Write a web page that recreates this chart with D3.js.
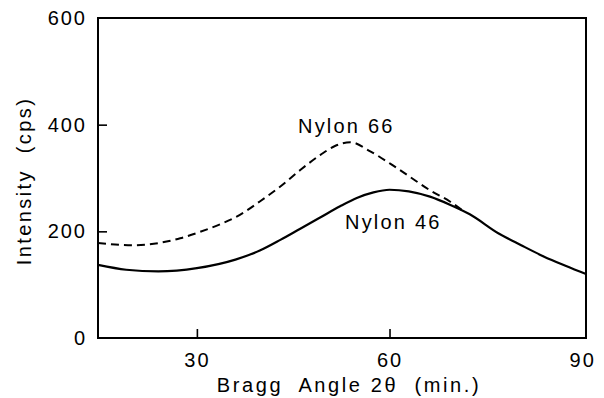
<!DOCTYPE html>
<html>
<head>
<meta charset="utf-8">
<script src="https://cdn.jsdelivr.net/npm/d3@7"></script>
<style>
  body { margin: 0; background: #fff; }
  text { font-family: "Liberation Sans", Arial, sans-serif; fill: #000; white-space: pre; }
</style>
</head>
<body>
<div id="chart"></div>
<script>
// data (angle in min., intensity in cps)
var angle46 = [14.6, 19, 24, 30, 36, 39.8, 43, 46.1, 49.2, 52.3, 55, 57.5, 60, 63, 66.3, 69.4, 72.5, 77, 80.5, 84, 87.5, 90.6];
var nylon46 = [137, 128, 125, 131, 147, 164, 184, 205, 226, 247, 263, 273, 278, 275, 265, 250, 232, 196, 174, 153, 135, 120];

var angle66 = [14.6, 20, 24, 27.4, 30.5, 33.6, 36.7, 39.8, 43, 46.1, 49.2, 51.5, 53.9, 57, 60.1, 63.2, 66.3, 69.4, 71.5];
var nylon66 = [178, 174, 178, 187, 199, 213, 231, 256, 284, 315, 343, 360, 367, 350, 327, 302, 277, 256, 238];

var xTicks = [30, 60, 90];
var yTicks = [0, 200, 400, 600];

var width = 604, height = 398;
var plotLeft = 98, plotRight = 586, plotTop = 18, plotBottom = 338;

var svg = d3.select("#chart").append("svg")
    .attr("width", width)
    .attr("height", height);

var x = d3.scaleLinear().domain([14.6, 90.6]).range([plotLeft, plotRight]);
var y = d3.scaleLinear().domain([0, 600]).range([plotBottom, plotTop]);

// frame
svg.append("rect")
    .attr("x", plotLeft).attr("y", plotTop)
    .attr("width", plotRight - plotLeft).attr("height", plotBottom - plotTop)
    .attr("fill", "none").attr("stroke", "#000").attr("stroke-width", 2);

// axes, ticks pointing inward
var xAxis = svg.append("g")
    .attr("transform", "translate(0," + plotBottom + ")")
    .call(d3.axisBottom(x).tickValues(xTicks).tickSize(-9).tickPadding(15).tickFormat(d3.format("d")));
var yAxis = svg.append("g")
    .attr("transform", "translate(" + plotLeft + ",0)")
    .call(d3.axisLeft(y).tickValues(yTicks).tickSize(-9).tickPadding(11).tickFormat(d3.format("d")));

[xAxis, yAxis].forEach(function (a) {
    a.select(".domain").remove();
    a.selectAll(".tick line").attr("stroke", "#000").attr("stroke-width", 1.6);
    a.selectAll(".tick text")
        .attr("fill", "#000")
        .style("font-size", "20px")
        .style("letter-spacing", "2px");
});
// no visible tick marks at the frame corners / right edge
xAxis.selectAll(".tick").filter(function (d) { return d == 90; }).select("line").remove();
yAxis.selectAll(".tick").filter(function (d) { return d == 0 || d == 600; }).select("line").remove();

var line = d3.line()
    .x(function (d) { return x(d[0]); })
    .y(function (d) { return y(d[1]); })
    .curve(d3.curveMonotoneX);

svg.append("path")
    .datum(d3.zip(angle66, nylon66))
    .attr("d", line)
    .attr("fill", "none")
    .attr("stroke", "#000")
    .attr("stroke-width", 2)
    .attr("stroke-dasharray", "8,5");

svg.append("path")
    .datum(d3.zip(angle46, nylon46))
    .attr("d", line)
    .attr("fill", "none")
    .attr("stroke", "#000")
    .attr("stroke-width", 2.2);

// series labels
svg.append("text")
    .attr("x", 298).attr("y", 133)
    .style("font-size", "20px").style("letter-spacing", "2.2px")
    .text("Nylon 66");
svg.append("text")
    .attr("x", 345).attr("y", 229)
    .style("font-size", "20px").style("letter-spacing", "2.2px")
    .text("Nylon 46");

// axis titles
svg.append("text")
    .attr("x", 349).attr("y", 392)
    .attr("text-anchor", "middle")
    .style("font-size", "20px").style("letter-spacing", "2.6px")
    .text("Bragg  Angle 2θ  (min.)");

svg.append("text")
    .attr("transform", "translate(31,181) rotate(-90)")
    .attr("text-anchor", "middle")
    .style("font-size", "20px").style("letter-spacing", "2.4px")
    .text("Intensity  (cps)");
</script>
</body>
</html>
